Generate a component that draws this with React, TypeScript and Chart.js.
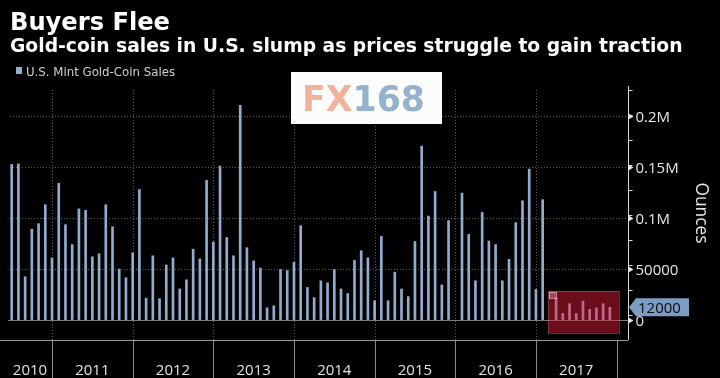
import { useEffect, useRef } from "react";
import { Chart, registerables } from "chart.js";

Chart.register(...registerables);

// ---------- data ----------
const TITLE = "Buyers Flee";
const SUBTITLE = "Gold-coin sales in U.S. slump as prices struggle to gain traction";
const SERIES_NAME = "U.S. Mint Gold-Coin Sales";
const AXIS_TITLE = "Ounces";
const YEARS = [2010, 2011, 2012, 2013, 2014, 2015, 2016, 2017];
const FIRST_YEAR = 2010;
const FIRST_MONTH = 7; // series starts July 2010

// monthly sales, ounces (null = no bar shown)
const SALES: (number | null)[] = [
  152000, 152500, 42000, 88500, 94000, 112500,
  60500, 133500, 93000, 73500, 108500, 107000, 61500, 64500, 112500, 91000, 49500, 41000,
  65500, 127500, 21000, 62500, 20500, 53500, 60500, 30000, 39000, 69000, 59500, 136500,
  76000, 150500, 80500, 62500, 210000, 70500, 57500, 50500, 11500, 13500, 49000, 48000,
  56000, 92000, 31500, 21500, 38000, 36000, 49000, 30000, 25500, 58000, 67500, 60500,
  18500, 81500, 18500, 46500, 30000, 22500, 76500, 170000, 101500, 125500, 34000, 97000,
  null, 124000, 83500, 38000, 105000, 77000, 73500, 38000, 59000, 95000, 116500, 147500,
  29500, 117500, null, 21500, 6000, 15500, 6000, 18000, 10000, 11500, 15500, 12000,
];

const MONTH_LABELS = SALES.map((_, i) => {
  const m = FIRST_MONTH - 1 + i;
  const yr = FIRST_YEAR + Math.floor(m / 12);
  return `${yr}-${String((m % 12) + 1).padStart(2, "0")}`;
});

const Y_TICK_LABELS: Record<number, string> = {
  0: "0",
  50000: "50000",
  100000: "0.1M",
  150000: "0.15M",
  200000: "0.2M",
};
const Y_MIN = -20000;
const Y_MAX = 225000;
const Y_STEP = 25000;

// highlighted 2017 region (in data units)
const HIGHLIGHT = { from: 79.85, to: 90.35, low: -13000, high: 28000 };

// ---------- helpers ----------
const indexOf = (year: number, month: number) =>
  (year - FIRST_YEAR) * 12 + (month - FIRST_MONTH);

function fitFont(ctx: CanvasRenderingContext2D, text: string, weight: string, family: string, width: number) {
  ctx.font = `${weight} 100px ${family}`;
  const w = ctx.measureText(text).width;
  const size = (100 * width) / w;
  ctx.font = `${weight} ${size.toFixed(2)}px ${family}`;
  return size;
}

const BAR_COLOR = "#93abcf";

const decor = {
  id: "decor",
  beforeDatasetsDraw(chart: any) {
    const { ctx, chartArea: a, scales } = chart;
    const x = scales.x, y = scales.y;
    ctx.save();
    ctx.lineWidth = 1;
    ctx.strokeStyle = "#5c5c5c";
    ctx.setLineDash([1, 2]);
    Object.keys(Y_TICK_LABELS)
      .map(Number)
      .filter((v) => v > 0)
      .forEach((v) => {
        const py = Math.round(y.getPixelForValue(v)) + 0.5;
        ctx.beginPath();
        ctx.moveTo(a.left + 2, py);
        ctx.lineTo(a.right, py);
        ctx.stroke();
      });
    YEARS.slice(1).forEach((yr) => {
      const px = Math.round(x.getPixelForValue(indexOf(yr, 1))) + 0.5;
      ctx.beginPath();
      ctx.moveTo(px, a.top);
      ctx.lineTo(px, a.bottom);
      ctx.stroke();
    });
    ctx.setLineDash([]);
    ctx.strokeStyle = "#7a7a7a";
    const zy = Math.round(y.getPixelForValue(0)) + 0.5;
    ctx.beginPath();
    ctx.moveTo(a.left, zy);
    ctx.lineTo(a.right, zy);
    ctx.stroke();
    ctx.restore();
  },
  afterDatasetsDraw(chart: any) {
    const { ctx, scales } = chart;
    const x = scales.x, y = scales.y;
    const x1 = x.getPixelForValue(HIGHLIGHT.from);
    const x2 = x.getPixelForValue(HIGHLIGHT.to);
    const y1 = y.getPixelForValue(HIGHLIGHT.high);
    const y2 = y.getPixelForValue(HIGHLIGHT.low);
    ctx.save();
    ctx.fillStyle = "rgba(235,28,62,0.46)";
    ctx.fillRect(x1, y1, x2 - x1, y2 - y1);
    ctx.strokeStyle = "rgba(230,120,140,0.8)";
    ctx.setLineDash([1, 1]);
    ctx.lineWidth = 1;
    ctx.strokeRect(Math.round(x1) + 0.5, Math.round(y1) + 0.5, Math.round(x2 - x1), Math.round(y2 - y1));
    ctx.setLineDash([]);
    ctx.fillStyle = "rgba(255,190,200,0.35)";
    ctx.fillRect(Math.round(x1) + 1, Math.round(y1) + 1, 7, 6);
    ctx.strokeStyle = "rgba(255,200,210,0.6)";
    ctx.strokeRect(Math.round(x1) + 1.5, Math.round(y1) + 1.5, 7, 6);
    ctx.restore();
  },
  afterDraw(chart: any) {
    const { ctx, chartArea: a, scales } = chart;
    const x = scales.x, y = scales.y;
    ctx.save();

    // titles
    ctx.fillStyle = "#ffffff";
    ctx.textBaseline = "alphabetic";
    ctx.textAlign = "left";
    fitFont(ctx, TITLE, "bold", "'DejaVu Sans'", 160);
    ctx.fillText(TITLE, 10, 30);
    fitFont(ctx, SUBTITLE, "bold", "'DejaVu Sans'", 673);
    ctx.fillText(SUBTITLE, 10, 52);

    // legend
    ctx.fillStyle = BAR_COLOR;
    ctx.fillRect(16, 67, 6, 7);
    ctx.fillStyle = "#d0d0d0";
    fitFont(ctx, SERIES_NAME, "normal", "'DejaVu Sans Condensed', 'DejaVu Sans'", 149);
    ctx.fillText(SERIES_NAME, 26, 76);

    // logo watermark
    ctx.fillStyle = "#fcfcfc";
    ctx.fillRect(291, 72, 151, 52);
    fitFont(ctx, "FX168", "bold", "'DejaVu Sans'", 123);
    ctx.fillStyle = "#f1b29c";
    ctx.fillText("FX", 302, 111);
    const fxw = ctx.measureText("FX").width;
    ctx.fillStyle = "#92b2ce";
    ctx.fillText("168", 302 + fxw, 111);

    // right axis: extend line, tick marks, major arrows and labels
    ctx.strokeStyle = "#d8d8d8";
    ctx.lineWidth = 1;
    const ax = Math.round(a.right) + 0.5;
    ctx.beginPath();
    ctx.moveTo(ax, a.top - 4);
    ctx.lineTo(ax, a.bottom);
    ctx.stroke();
    (y.ticks as { value: number }[]).forEach((t) => {
      if (t.value < 0) return;
      const py = Math.round(y.getPixelForValue(t.value)) + 0.5;
      ctx.beginPath();
      ctx.moveTo(ax, py);
      ctx.lineTo(ax + 4, py);
      ctx.stroke();
    });
    ctx.fillStyle = "#e6e6e6";
    ctx.font = "15px 'Open Sans'";
    ctx.textAlign = "left";
    ctx.textBaseline = "middle";
    Object.keys(Y_TICK_LABELS).map(Number).forEach((v) => {
      const py = Math.round(y.getPixelForValue(v)) + 0.5;
      ctx.beginPath();
      ctx.moveTo(ax, py - 3);
      ctx.lineTo(ax + 5, py);
      ctx.lineTo(ax, py + 3);
      ctx.closePath();
      ctx.fill();
      ctx.fillText(Y_TICK_LABELS[v], ax + 7, py + 1);
    });

    // bottom axis band
    ctx.textBaseline = "alphabetic";
    ctx.strokeStyle = "#9a9a9a";
    const by = Math.round(a.bottom) + 0.5;
    ctx.beginPath();
    ctx.moveTo(0, by);
    ctx.lineTo(a.right, by);
    ctx.stroke();
    ctx.strokeStyle = "#8a8a8a";
    ctx.fillStyle = "#e2e2e2";
    ctx.font = "15px 'Open Sans'";
    ctx.textAlign = "center";
    YEARS.forEach((yr) => {
      const s = Math.max(a.left, x.getPixelForValue(indexOf(yr, 1)));
      const e = x.getPixelForValue(indexOf(yr + 1, 1));
      const px = Math.round(e) + 0.5;
      ctx.beginPath();
      ctx.moveTo(px, by);
      ctx.lineTo(px, 378);
      ctx.stroke();
      ctx.fillText(String(yr), (s + e) / 2, 375);
    });

    // axis title
    ctx.save();
    ctx.translate(701, 213);
    ctx.rotate(Math.PI / 2);
    ctx.fillStyle = "#e8e8e8";
    fitFont(ctx, AXIS_TITLE, "normal", "'Open Sans'", 61);
    ctx.textAlign = "center";
    ctx.textBaseline = "middle";
    ctx.fillText(AXIS_TITLE, 0, 0);
    ctx.restore();

    // last value tag
    const last = SALES[SALES.length - 1] as number;
    const ly = y.getPixelForValue(last);
    ctx.fillStyle = "#7d9cc4";
    ctx.beginPath();
    ctx.moveTo(a.right + 1, ly);
    ctx.lineTo(a.right + 8, ly - 9);
    ctx.lineTo(689, ly - 9);
    ctx.lineTo(689, ly + 9);
    ctx.lineTo(a.right + 8, ly + 9);
    ctx.closePath();
    ctx.fill();
    ctx.fillStyle = "#0c0c0c";
    ctx.font = "15px 'Open Sans'";
    ctx.textAlign = "left";
    ctx.textBaseline = "middle";
    ctx.fillText(String(last), a.right + 10, ly + 1);

    ctx.restore();
  },
};

export default function App() {
  const ref = useRef<HTMLCanvasElement>(null);
  useEffect(() => {
    document.body.style.margin = "0";
    document.body.style.background = "#000";
    const chart = new Chart(ref.current!, {
      type: "bar",
      data: {
        labels: MONTH_LABELS,
        datasets: [
          {
            label: SERIES_NAME,
            data: SALES.map((v, i) => ({ x: i, y: v })) as any,
            backgroundColor: BAR_COLOR,
            barThickness: 2,
          },
        ],
      },
      options: {
        responsive: false,
        animation: false,
        events: [],
        layout: { padding: { left: 8, top: 90, bottom: 38, right: 0 } },
        plugins: { legend: { display: false }, tooltip: { enabled: false }, title: { display: false } },
        scales: {
          x: { type: "linear", min: -0.55, max: 91.7, display: false, offset: false },
          y: {
            position: "right",
            min: Y_MIN,
            max: Y_MAX,
            ticks: { stepSize: Y_STEP, display: false },
            grid: { display: false },
            border: { display: false },
            afterFit: (s: any) => {
              s.width = 92;
            },
          },
        },
      },
      plugins: [decor],
    });
    return () => chart.destroy();
  }, []);
  return (
    <div style={{ width: 720, height: 378, background: "#000", position: "relative" }}>
      <canvas ref={ref} width={720} height={378} style={{ display: "block" }} />
    </div>
  );
}
